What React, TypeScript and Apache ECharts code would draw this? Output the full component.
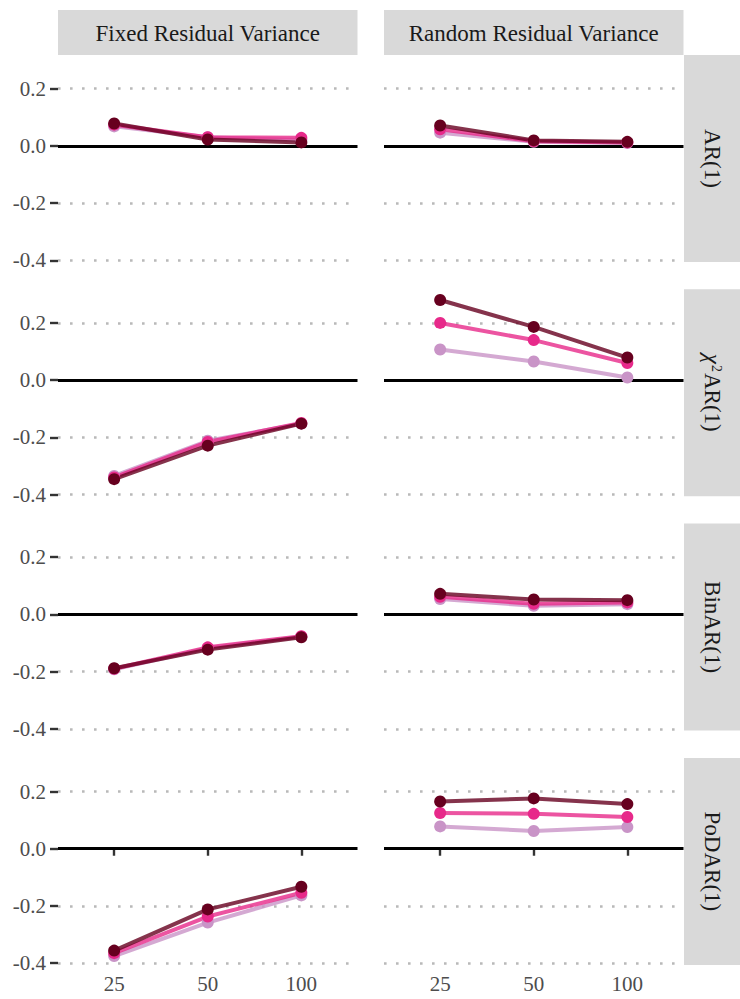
import React, { useEffect, useRef } from "react";
import * as echarts from "echarts";

const sampleSizes = ["25", "50", "100"];
const varianceTypes = ["Fixed Residual Variance", "Random Residual Variance"];
const models = ["AR(1)", "χ2AR(1)", "BinAR(1)", "PoDAR(1)"];
const groupNames = ["Low", "Medium", "High"];
const groupColors = ["#c994c7", "#e7298a", "#67001f"];
const yTicks = [-0.4, -0.2, 0, 0.2];

// [group] -> values over sampleSizes
const ar1Fixed = [
  [0.068, 0.03, 0.02],
  [0.074, 0.03, 0.028],
  [0.078, 0.022, 0.012],
];
const ar1Random = [
  [0.046, 0.014, 0.01],
  [0.058, 0.016, 0.012],
  [0.071, 0.019, 0.014],
];
const chiFixed = [
  [-0.335, -0.212, -0.152],
  [-0.34, -0.216, -0.15],
  [-0.346, -0.229, -0.152],
];
const chiRandom = [
  [0.107, 0.065, 0.009],
  [0.2, 0.14, 0.06],
  [0.28, 0.186, 0.079],
];
const binFixed = [
  [-0.192, -0.118, -0.078],
  [-0.19, -0.115, -0.076],
  [-0.188, -0.123, -0.08],
];
const binRandom = [
  [0.054, 0.03, 0.036],
  [0.062, 0.037, 0.042],
  [0.072, 0.052, 0.05],
];
const podFixed = [
  [-0.375, -0.258, -0.163],
  [-0.365, -0.237, -0.154],
  [-0.356, -0.212, -0.133],
];
const podRandom = [
  [0.078, 0.062, 0.076],
  [0.125, 0.122, 0.111],
  [0.165, 0.176, 0.156],
];

const panelData = [
  [ar1Fixed, ar1Random],
  [chiFixed, chiRandom],
  [binFixed, binRandom],
  [podFixed, podRandom],
];

const FONT = "'Liberation Serif', 'DejaVu Serif', serif";

export default function App() {
  const ref = useRef<HTMLDivElement>(null);

  useEffect(() => {
    if (!ref.current) return;
    const chart = echarts.init(ref.current, null, { renderer: "svg" });

    const colLeft = [58, 384];
    const panelW = 299.5;
    const panelH = 207;
    const rowTop = (r: number) => 55 + r * 234.3;

    const grids: any[] = [];
    const xAxes: any[] = [];
    const yAxes: any[] = [];
    const series: any[] = [];
    const graphics: any[] = [];

    for (let r = 0; r < 4; r++) {
      for (let c = 0; c < 2; c++) {
        const gi = r * 2 + c;
        const isBottom = r === 3;
        const isLeft = c === 0;
        grids.push({
          left: colLeft[c],
          top: rowTop(r),
          width: panelW,
          height: panelH,
          containLabel: false,
        });
        xAxes.push({
          type: "value",
          gridIndex: gi,
          min: 0.4,
          max: 3.6,
          axisLine: { show: false },
          splitLine: { show: false },
          axisTick: {
            show: isBottom,
            customValues: [1, 2, 3],
            length: 7,
            lineStyle: { color: "#333333", width: 2.4 },
          },
          axisLabel: {
            show: isBottom,
            customValues: [1, 2, 3],
            formatter: (v: number) => sampleSizes[Math.round(v) - 1] ?? "",
            color: "#4d4d4d",
            fontSize: 21,
            fontFamily: FONT,
            margin: 9,
          },
        });
        yAxes.push({
          type: "value",
          gridIndex: gi,
          min: -0.406,
          max: 0.3175,
          axisLine: { show: false },
          splitLine: { show: false },
          axisTick: {
            show: isLeft,
            customValues: yTicks,
            length: 8,
            lineStyle: { color: "#333333", width: 2.4 },
          },
          axisLabel: {
            show: isLeft,
            customValues: yTicks,
            formatter: (v: number) => v.toFixed(1),
            color: "#4d4d4d",
            fontSize: 21,
            fontFamily: FONT,
            margin: 12,
          },
        });

        const data = panelData[r][c];
        // reference lines (grid + zero)
        series.push({
          type: "line",
          xAxisIndex: gi,
          yAxisIndex: gi,
          data: data[0].map((v, i) => [i + 1, v]),
          symbol: "none",
          lineStyle: { opacity: 0 },
          silent: true,
          z: 1,
          markLine: {
            silent: true,
            z: 1,
            symbol: ["none", "none"],
            label: { show: false },
            animation: false,
            data: [
              ...yTicks
                .filter((t) => t !== 0)
                .map((t) => ({
                  yAxis: t,
                  lineStyle: { color: "#b9b9b9", width: 2.6, type: [2.6, 9.4] },
                })),
              { yAxis: 0, lineStyle: { color: "#000000", width: 2.8, type: "solid" } },
            ],
          },
        });
        for (let g = 0; g < 3; g++) {
          series.push({
            type: "line",
            name: groupNames[g],
            xAxisIndex: gi,
            yAxisIndex: gi,
            data: data[g].map((v, i) => [i + 1, v]),
            symbol: "none",
            lineStyle: { color: groupColors[g], width: 4, opacity: 0.8 },
            z: 2,
          });
        }
        for (let g = 0; g < 3; g++) {
          series.push({
            type: "scatter",
            name: groupNames[g],
            xAxisIndex: gi,
            yAxisIndex: gi,
            data: data[g].map((v, i) => [i + 1, v]),
            symbol: "circle",
            symbolSize: 12,
            itemStyle: { color: groupColors[g], opacity: 1 },
            z: 3,
          });
        }
      }
    }

    // Top strips
    for (let c = 0; c < 2; c++) {
      graphics.push({
        type: "rect",
        shape: { x: colLeft[c], y: 10, width: panelW, height: 45 },
        style: { fill: "#d9d9d9" },
        silent: true,
      });
      graphics.push({
        type: "text",
        x: colLeft[c] + panelW / 2,
        y: 33,
        style: {
          text: varianceTypes[c],
          font: `23px ${FONT}`,
          fill: "#1a1a1a",
          align: "center",
          verticalAlign: "middle",
        },
        silent: true,
      });
    }
    // Right strips
    for (let r = 0; r < 4; r++) {
      const top = rowTop(r);
      graphics.push({
        type: "rect",
        shape: { x: 684, y: top, width: 56, height: panelH },
        style: { fill: "#d9d9d9" },
        silent: true,
      });
      const isChi = models[r].startsWith("χ");
      graphics.push({
        type: "text",
        x: 712,
        y: top + panelH / 2,
        rotation: -Math.PI / 2,
        style: isChi
          ? {
              text: "{chi|χ}{sup|2}{n|AR(1)}",
              fill: "#1a1a1a",
              align: "center",
              verticalAlign: "middle",
              rich: {
                chi: { font: `italic 23px ${FONT}`, fill: "#1a1a1a" },
                sup: { font: `14px ${FONT}`, fill: "#1a1a1a", verticalAlign: "top", padding: [0, 1, 0, 1] },
                n: { font: `23px ${FONT}`, fill: "#1a1a1a" },
              },
            }
          : {
              text: models[r],
              font: `23px ${FONT}`,
              fill: "#1a1a1a",
              align: "center",
              verticalAlign: "middle",
            },
        silent: true,
      });
    }

    chart.setOption({
      animation: false,
      backgroundColor: "#ffffff",
      grid: grids,
      xAxis: xAxes,
      yAxis: yAxes,
      series,
      graphic: graphics,
    });

    return () => chart.dispose();
  }, []);

  return (
    <div
      ref={ref}
      style={{ position: "absolute", left: 0, top: 0, width: 740, height: 999 }}
    />
  );
}
